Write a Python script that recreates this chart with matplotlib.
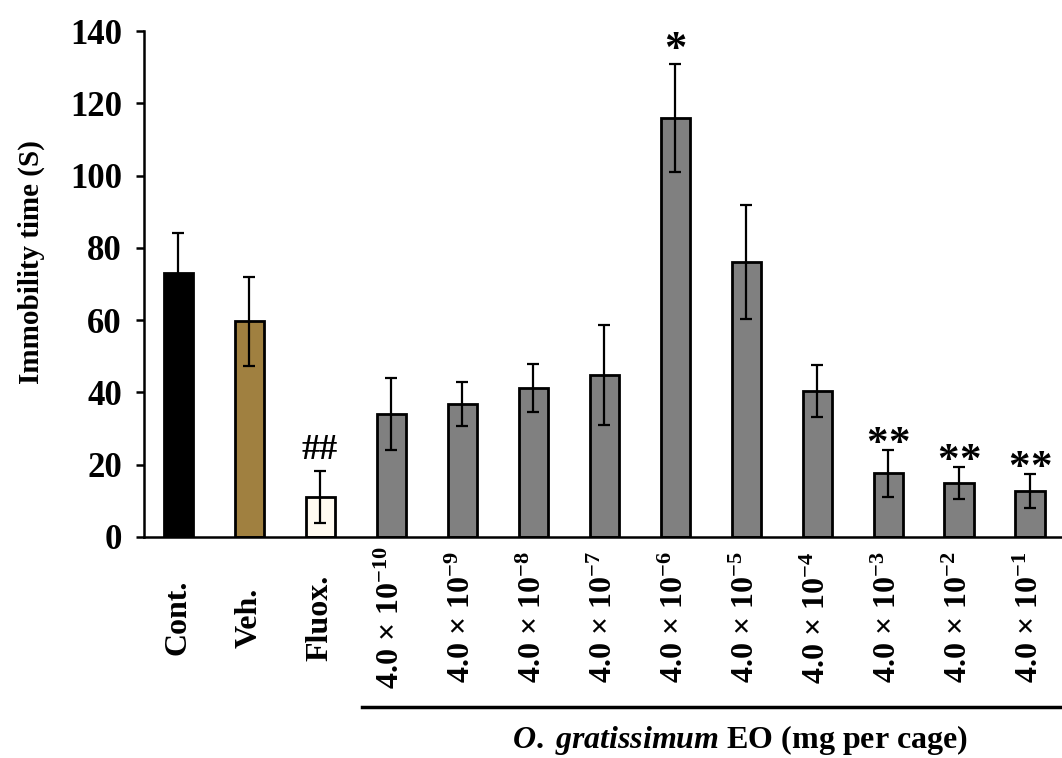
import matplotlib
matplotlib.use("Agg")
import matplotlib.pyplot as plt
import matplotlib.transforms as mtransforms
import numpy as np

plt.rcParams['font.family'] = ['Liberation Serif', 'DejaVu Serif']
plt.rcParams['font.weight'] = 'bold'
plt.rcParams['axes.labelweight'] = 'bold'
plt.rcParams['mathtext.fontset'] = 'custom'
plt.rcParams['mathtext.rm'] = 'Liberation Serif:bold'
plt.rcParams['mathtext.bf'] = 'Liberation Serif:bold'
plt.rcParams['mathtext.it'] = 'Liberation Serif:bold:italic'
plt.rcParams['mathtext.default'] = 'rm'

# Data
groups = ["Cont.", "Veh.", "Fluox.",
          r"4.0 × 10$^{-10}$", r"4.0 × 10$^{-9}$", r"4.0 × 10$^{-8}$",
          r"4.0 × 10$^{-7}$", r"4.0 × 10$^{-6}$", r"4.0 × 10$^{-5}$",
          r"4.0 × 10$^{-4}$", r"4.0 × 10$^{-3}$", r"4.0 × 10$^{-2}$",
          r"4.0 × 10$^{-1}$"]
means = [73.0, 59.7, 11.0, 34.1, 36.8, 41.2, 44.8, 115.9, 76.1, 40.4, 17.6, 14.9, 12.7]
errors = [11.2, 12.3, 7.2, 9.9, 6.1, 6.7, 13.9, 15.0, 15.8, 7.2, 6.5, 4.4, 4.6]
bar_colors = ["#000000", "#A08040", "#FFFAF0"] + ["#808080"] * 10
marks = {2: "##", 7: "*", 10: "**", 11: "**", 12: "**"}

fig = plt.figure(figsize=(10.62, 7.58), dpi=100)
ax = fig.add_axes([0.1356, 0.2916, 0.8644, 0.6675])

x = np.arange(len(groups))
ax.bar(x, means, width=0.41, color=bar_colors, edgecolor="black", linewidth=2.0, zorder=2)
ax.errorbar(x, means, yerr=errors, fmt="none", ecolor="black", elinewidth=1.6,
            capsize=4.5, capthick=1.6, zorder=3)

for i, m in marks.items():
    top = means[i] + errors[i]
    if m == "##":
        ax.text(x[i], top + 3.5, m, ha="center", va="baseline", fontsize=26)
    elif m == "*":
        ax.text(x[i], top + 0.8, m, ha="center", va="baseline", fontsize=32)
    else:
        # two stars with a small gap between them
        for dx in (-0.155, 0.155):
            ax.text(x[i] + dx, top - 1.3, "*", ha="center", va="baseline", fontsize=31)

ax.set_xlim(-0.48, 12.45)
ax.set_ylim(0, 140)
ax.set_yticks(np.arange(0, 141, 20))
ax.tick_params(axis="y", direction="out", length=6, width=1.8, labelsize=25, pad=10)
ax.set_xticks(x)
ax.set_xticklabels(groups, rotation=90, va="center", ha="center", fontsize=23)
ax.tick_params(axis="x", length=0, pad=58)

for s in ["top", "right"]:
    ax.spines[s].set_visible(False)
for s in ["left", "bottom"]:
    ax.spines[s].set_linewidth(1.8)

ax.set_ylabel("Immobility time (S)", fontsize=21)
ax.yaxis.set_label_coords(-0.108, 0.543)

# group bracket and label
trans = mtransforms.blended_transform_factory(ax.transData, fig.transFigure)
ax.plot([2.59, 12.45], [0.067, 0.067], color="black", linewidth=2.5,
        transform=trans, clip_on=False)
ax.text(7.91, 0.024, r"$\mathit{O.\;gratissimum}$ EO (mg per cage)",
        transform=trans, ha="center", va="center", fontsize=23)

fig.savefig("out.png", dpi=100)
